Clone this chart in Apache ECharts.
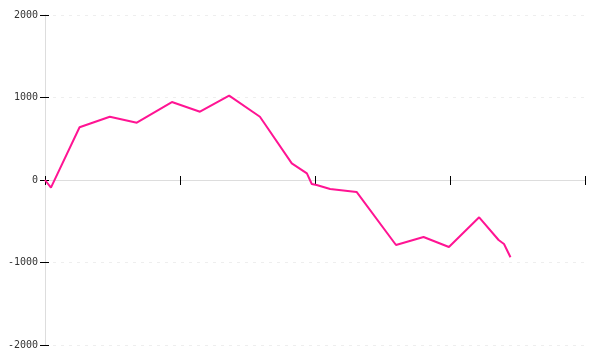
<!DOCTYPE html>
<html><head><meta charset="utf-8">
<script src="https://cdn.jsdelivr.net/npm/echarts@6/dist/echarts.min.js"></script>
<style>html,body{margin:0;padding:0;background:#fff}#c{width:600px;height:360px}</style>
</head><body><div id="c"></div>
<script>
const xValues = [0, 1.1, 6.4, 12.0, 17.0, 23.5, 28.7, 34.1, 39.8, 45.7, 48.5, 49.4, 50.3, 52.8, 57.7, 65.0, 70.1, 74.8, 80.4, 84.0, 85.0, 86.2];
const yValues = [0, -93, 639, 767, 695, 945, 828, 1022, 767, 202, 81, -48, -60, -109, -145, -788, -691, -812, -452, -727, -776, -937];
const yTicks = [-2000, -1000, 0, 1000, 2000];

const data = xValues.map((x, i) => [x, yValues[i]]);
const font = 'DejaVu Sans Mono';
const chart = echarts.init(document.getElementById('c'));
const baseX = {type: 'value', min: 0, max: 100, interval: 25, axisLabel: {show: false}, splitLine: {show: false}};
const baseY = {type: 'value', min: yTicks[0], max: yTicks[yTicks.length - 1], interval: 1000, position: 'left'};
chart.setOption({
  animation: false,
  grid: {left: 45, right: 15, top: 15, bottom: 15},
  xAxis: [
    Object.assign({}, baseX, {axisLine: {onZero: true, lineStyle: {color: '#ddd', width: 1}}, axisTick: {inside: false, length: 5, lineStyle: {color: '#000'}}}),
    Object.assign({}, baseX, {position: 'bottom', axisLine: {onZero: true, show: false}, axisTick: {show: true, inside: true, length: 4, lineStyle: {color: '#000'}}})
  ],
  yAxis: [
    Object.assign({}, baseY, {
      axisLine: {show: true, lineStyle: {color: '#ddd'}},
      axisTick: {inside: false, length: 5, lineStyle: {color: '#000'}},
      axisLabel: {fontFamily: font, fontSize: 10, color: '#333', margin: 7, formatter: v => String(v)},
      splitLine: {show: true, lineStyle: {color: '#eee', type: [3, 5]}}
    }),
    Object.assign({}, baseY, {
      axisLine: {show: false},
      axisTick: {show: true, inside: true, length: 4, lineStyle: {color: '#000'}},
      axisLabel: {show: false},
      splitLine: {show: false}
    })
  ],
  series: [{
    type: 'line', data: data, xAxisIndex: 0, yAxisIndex: 0,
    showSymbol: false, smooth: false,
    lineStyle: {color: '#ff1493', width: 2}
  }]
});
</script></body></html>
